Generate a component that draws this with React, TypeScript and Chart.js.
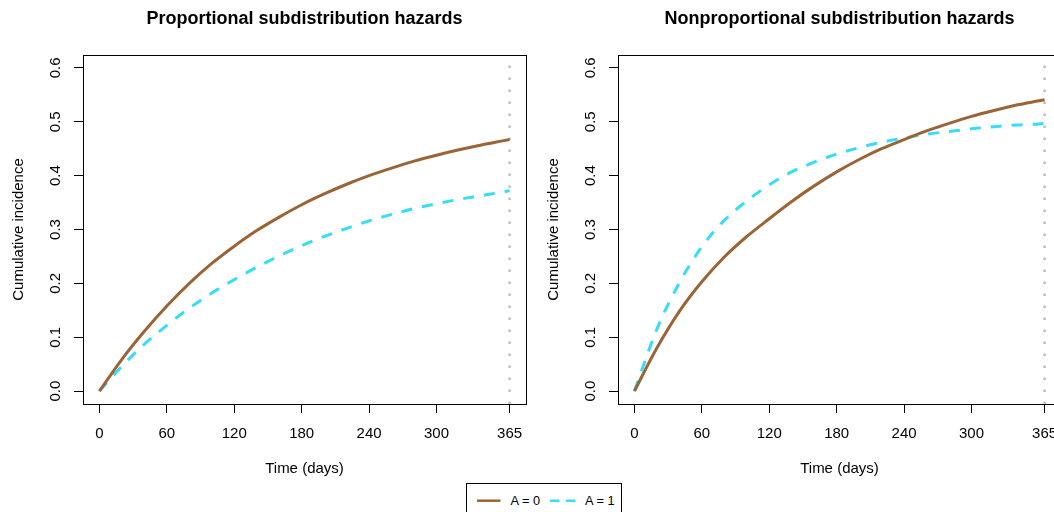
import React, { useEffect, useRef } from 'react';
import { Chart, registerables } from 'chart.js';

Chart.register(...registerables);

// Evaluation times (days since baseline)
const days = [0, 20, 40, 60, 80, 100, 120, 140, 160, 180, 200, 220, 240, 260, 280, 300, 320, 340, 360, 365];

// Proportional subdistribution hazards: cumulative incidence by exposure group
const propA0 = [0, 0.059, 0.111, 0.158, 0.2, 0.237, 0.269, 0.298, 0.323, 0.346, 0.366, 0.384, 0.4, 0.414, 0.427, 0.438, 0.448, 0.457, 0.465, 0.467];
const propA1 = [0, 0.046, 0.087, 0.122, 0.154, 0.182, 0.207, 0.23, 0.251, 0.27, 0.287, 0.302, 0.316, 0.328, 0.339, 0.348, 0.356, 0.363, 0.37, 0.372];

// Nonproportional subdistribution hazards: cumulative incidence by exposure group
const nonpropA0 = [0, 0.08, 0.148, 0.203, 0.249, 0.287, 0.32, 0.352, 0.381, 0.407, 0.43, 0.45, 0.467, 0.483, 0.497, 0.51, 0.521, 0.531, 0.539, 0.541];
const nonpropA1 = [0, 0.115, 0.201, 0.268, 0.317, 0.353, 0.383, 0.407, 0.425, 0.44, 0.452, 0.462, 0.47, 0.477, 0.482, 0.487, 0.491, 0.494, 0.496, 0.497];

const dayTicks = [0, 60, 120, 180, 240, 300, 365];
const incidenceTicks = [0, 0.1, 0.2, 0.3, 0.4, 0.5, 0.6];
const horizonDay = 365;
const seriesLabels = ['A = 0', 'A = 1'];
const panelTitles = ['Proportional subdistribution hazards', 'Nonproportional subdistribution hazards'];

const FONT = "'Liberation Sans', Arial, Helvetica, sans-serif";
const BROWN = '#9B6437';
const CYAN = '#36DDFA';
const DOT = '#BEBEBE';

// Axis limits padded 4% beyond the data range
const X_MIN = -14.6;
const X_MAX = 379.6;
const Y_MIN = -0.024;
const Y_MAX = 0.624;

const CANVAS_W = 540;
const CANVAS_H = 512;

const frameBox = {
  id: 'frameBox',
  afterDatasetsDraw(chart: any) {
    const { ctx, chartArea } = chart;
    const l = Math.round(chartArea.left) + 0.5;
    const t = Math.round(chartArea.top) + 0.5;
    const r = Math.round(chartArea.right) + 0.5;
    const b = Math.round(chartArea.bottom) + 0.5;
    ctx.save();
    ctx.strokeStyle = '#000';
    ctx.lineWidth = 1;
    ctx.strokeRect(l, t, r - l, b - t);
    ctx.restore();
  },
};

const axisFont = { family: FONT, size: 15 };

function Panel({ title, a0, a1, left }: { title: string; a0: number[]; a1: number[]; left: number }) {
  const ref = useRef<HTMLCanvasElement>(null);

  useEffect(() => {
    const chart = new Chart(ref.current as HTMLCanvasElement, {
      type: 'line',
      data: {
        datasets: [
          {
            label: seriesLabels[0],
            data: days.map((d, i) => ({ x: d, y: a0[i] })),
            borderColor: BROWN,
            borderWidth: 3,
            pointRadius: 0,
            cubicInterpolationMode: 'monotone',
          },
          {
            label: seriesLabels[1],
            data: days.map((d, i) => ({ x: d, y: a1[i] })),
            borderColor: CYAN,
            borderWidth: 3,
            borderDash: [11, 10],
            pointRadius: 0,
            cubicInterpolationMode: 'monotone',
          },
          {
            label: 'horizon',
            data: [
              { x: horizonDay, y: Y_MIN },
              { x: horizonDay, y: Y_MAX },
            ],
            borderColor: DOT,
            borderWidth: 2.5,
            borderDash: [2.5, 9.5],
            pointRadius: 0,
          },
        ],
      } as any,
      options: {
        animation: false,
        responsive: false,
        layout: { padding: { left: 0, right: 14, top: 0, bottom: 0 } },
        plugins: {
          legend: { display: false },
          tooltip: { enabled: false },
          title: {
            display: true,
            text: title,
            fullSize: false,
            color: '#000',
            font: { family: FONT, size: 18, weight: 'bold' },
            padding: { top: 8.4, bottom: 25 },
          },
        },
        scales: {
          x: {
            type: 'linear',
            min: X_MIN,
            max: X_MAX,
            afterBuildTicks: (s: any) => {
              s.ticks = dayTicks.map((v) => ({ value: v }));
            },
            afterFit: (s: any) => {
              s.height = 108;
            },
            ticks: {
              callback: (v: any) => String(v),
              font: axisFont,
              color: '#000',
              padding: 11.5,
              minRotation: 0,
              maxRotation: 0,
              autoSkip: false,
            },
            grid: { display: true, drawOnChartArea: false, drawTicks: true, tickLength: 9, color: '#000' },
            border: { display: false },
            title: {
              display: true,
              text: 'Time (days)',
              font: axisFont,
              color: '#000',
              padding: { top: 0, bottom: 34 },
            },
          },
          y: {
            type: 'linear',
            min: Y_MIN,
            max: Y_MAX,
            afterBuildTicks: (s: any) => {
              s.ticks = incidenceTicks.map((v) => ({ value: v }));
            },
            afterFit: (s: any) => {
              s.width = 83;
            },
            ticks: {
              callback: (v: any) => Number(v).toFixed(1),
              font: axisFont,
              color: '#000',
              padding: 7.5,
              minRotation: 90,
              maxRotation: 90,
              crossAlign: 'center',
              autoSkip: false,
            },
            grid: { display: true, drawOnChartArea: false, drawTicks: true, tickLength: 9, color: '#000' },
            border: { display: false },
            title: {
              display: true,
              text: 'Cumulative incidence',
              font: axisFont,
              color: '#000',
              padding: { top: 10, bottom: 0 },
            },
          },
        },
      } as any,
      plugins: [frameBox],
    });
    return () => chart.destroy();
  }, [title, a0, a1]);

  return (
    <canvas
      ref={ref}
      width={CANVAS_W}
      height={CANVAS_H}
      style={{ position: 'absolute', left, top: 0, width: CANVAS_W, height: CANVAS_H }}
    />
  );
}

function Legend() {
  return (
    <svg
      width={1054}
      height={512}
      style={{ position: 'absolute', left: 0, top: 0, pointerEvents: 'none' }}
    >
      <rect x={466.5} y={483.5} width={155} height={40} fill="#fff" stroke="#000" strokeWidth={1} />
      <line x1={477} x2={500.5} y1={500.7} y2={500.7} stroke={BROWN} strokeWidth={2.5} />
      <text x={510.5} y={505.3} fontSize={12.8} fontFamily={FONT} fill="#000">
        {seriesLabels[0]}
      </text>
      <line
        x1={550}
        x2={575.5}
        y1={500.7}
        y2={500.7}
        stroke={CYAN}
        strokeWidth={2.5}
        strokeDasharray="9.5 6.5"
      />
      <text x={585} y={505.3} fontSize={12.8} fontFamily={FONT} fill="#000">
        {seriesLabels[1]}
      </text>
    </svg>
  );
}

export default function App() {
  return (
    <div
      style={{
        position: 'fixed',
        left: 0,
        top: 0,
        width: 1054,
        height: 512,
        overflow: 'hidden',
        background: '#fff',
      }}
    >
      <Panel title={panelTitles[0]} a0={propA0} a1={propA1} left={0} />
      <Panel title={panelTitles[1]} a0={nonpropA0} a1={nonpropA1} left={535} />
      <Legend />
    </div>
  );
}
